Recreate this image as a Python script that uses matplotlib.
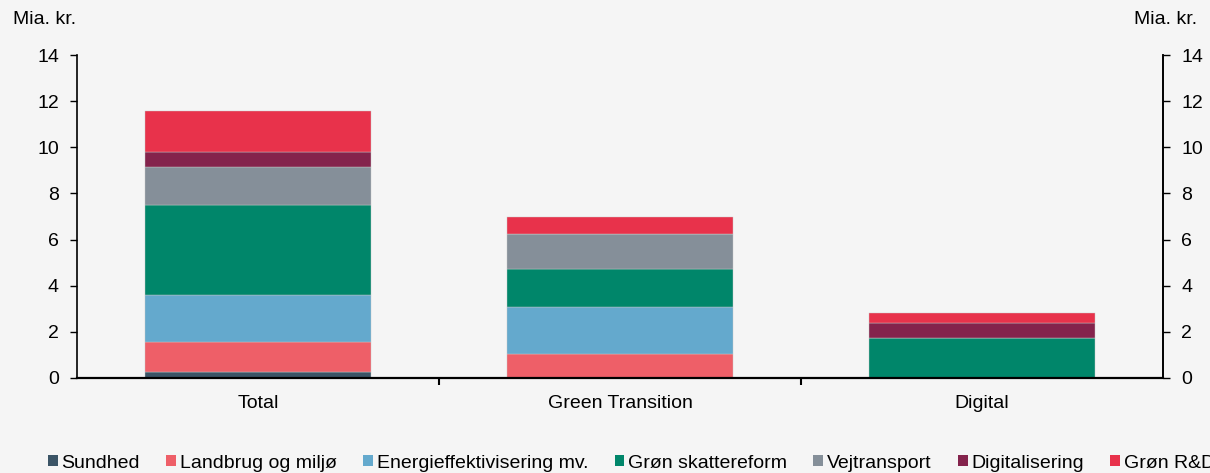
import numpy as np
import matplotlib
matplotlib.use("Agg")
from matplotlib import pyplot as plt
from matplotlib.patches import Patch

plt.rcParams['font.family'] = ['Liberation Sans', 'DejaVu Sans']
FS = 14
BG = '#f5f5f5'

categories = ['Total', 'Green Transition', 'Digital']
series = ['Sundhed', 'Landbrug og miljø', 'Energieffektivisering mv.',
          'Grøn skattereform', 'Vejtransport', 'Digitalisering', 'Grøn R&D']
sundhed = [0.25, 0.0, 0.0]
landbrug = [1.31, 1.04, 0.0]
energi = [2.05, 2.04, 0.0]
skat = [3.89, 1.63, 1.73]
vej = [1.65, 1.55, 0.0]
digital = [0.65, 0.0, 0.65]
rd = [1.79, 0.70, 0.45]
colors = ['#3b5466', '#ee5f68', '#64a9cd', '#00866a', '#858f99', '#84234c', '#e8324b']

values = [sundhed, landbrug, energi, skat, vej, digital, rd]

fig = plt.figure(figsize=(12.1, 4.73), dpi=100)
fig.patch.set_facecolor(BG)
ax = fig.add_axes([77 / 1210, 1 - 378 / 473, (1163 - 77) / 1210, (378 - 55) / 473])
ax.set_facecolor(BG)

x = np.arange(len(categories))
bottom = np.zeros(len(categories))
for name, vals, col in zip(series, values, colors):
    ax.bar(x, vals, 0.625, bottom=bottom, color=col, label=name,
           edgecolor='#c8c8c8', linewidth=0.3)
    bottom += np.array(vals)

ax.set_xlim(-0.5, 2.5)
ax.set_ylim(0, 14)
ax.set_yticks(range(0, 15, 2))
ax.set_xticks(x)
ax.set_xticklabels(categories, fontsize=FS)
ax.set_xticks([0.5, 1.5], minor=True)
ax.tick_params(axis='x', which='major', length=0, pad=12)
ax.tick_params(axis='x', which='minor', length=5, width=1.5, direction='out')
ax.tick_params(axis='y', length=5, width=1, labelsize=FS, pad=8)
ax.spines['top'].set_visible(False)
ax.spines['bottom'].set_linewidth(1.6)
ax.spines['left'].set_linewidth(1.2)
ax.spines['right'].set_linewidth(1.2)

ax2 = ax.twinx()
ax2.set_ylim(0, 14)
ax2.set_yticks(range(0, 15, 2))
ax2.tick_params(axis='y', length=5, width=1, labelsize=FS, pad=8)
for s in ['top', 'left', 'bottom']:
    ax2.spines[s].set_visible(False)
ax2.spines['right'].set_linewidth(1.2)

fig.text(13 / 1210, 1 - 20 / 473, 'Mia. kr.', fontsize=FS, va='center', ha='left')
fig.text(1197 / 1210, 1 - 20 / 473, 'Mia. kr.', fontsize=FS, va='center', ha='right')

handles = [Patch(facecolor=c, label=s) for s, c in zip(series, colors)]
fig.legend(handles=handles, loc='center left', bbox_to_anchor=(48 / 1210, 10 / 473),
           ncol=7, frameon=False, fontsize=FS, handlelength=0.5, handleheight=0.5,
           handletextpad=0.2, columnspacing=1.35, borderpad=0, borderaxespad=0)

plt.savefig('out.png', dpi=100, facecolor=BG)
